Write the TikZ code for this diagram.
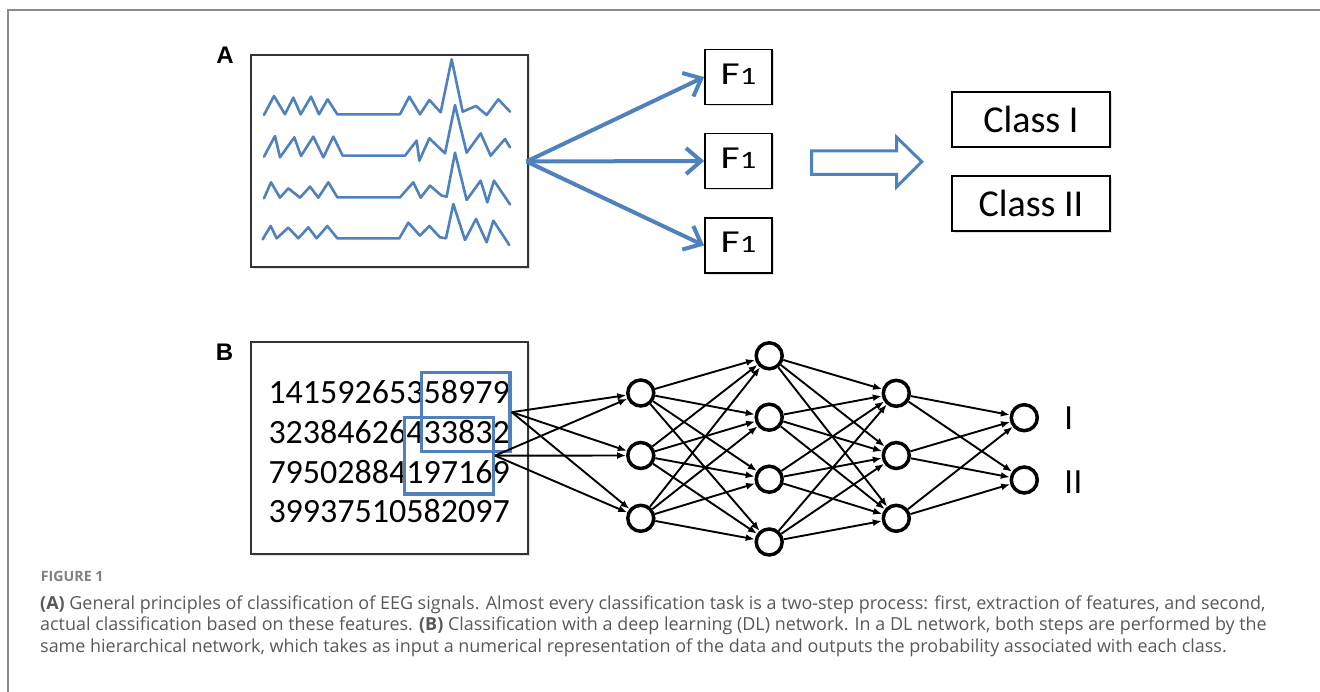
\documentclass[tikz,border=0pt]{standalone}
\usepackage{fontspec}
\setmainfont{Liberation Sans}
\newfontfamily\carl{Carlito}
\newfontfamily\osans{Open Sans}
\usetikzlibrary{arrows.meta,shadows}
\definecolor{offblue}{RGB}{79,129,189}
\definecolor{capgray}{RGB}{88,88,88}
\newcommand{\fone}{\scalebox{1.3}[1]{F{\fontsize{25}{25}\selectfont 1}}}
\tikzset{
  softshadow/.style={drop shadow={shadow xshift=1.8pt, shadow yshift=-1.8pt, fill=black, opacity=0.12}},
  frame/.style={draw=black!80, fill=white, line width=2pt, softshadow},
  sig/.style={draw=offblue, line width=2.6pt, line join=round, line cap=round},
  fbox/.style={draw=black, fill=white, softshadow, line width=1.8pt, minimum width=67pt, minimum height=55pt, inner sep=0pt, text depth=6pt, font=\carl\fontsize{32}{32}\selectfont},
  cbox/.style={draw=black, fill=white, softshadow, line width=1.8pt, minimum width=158pt, minimum height=55pt, inner sep=0pt, font=\carl\fontsize{38}{38}\selectfont},
  barrow/.style={draw=offblue, line width=4pt, -{Straight Barb[length=15pt,width=26pt,line width=4pt]}},
  digits/.style={anchor=base west, inner sep=0pt, font=\carl\fontsize{34}{34}\selectfont},
  winbox/.style={draw=offblue, line width=3.5pt, inner sep=0pt},
  neuron/.style={circle, draw=black, fill=white, line width=3.5pt, minimum size=26pt, inner sep=0pt},
  syn/.style={draw=black, line width=1.9pt, -{Latex[length=9pt,width=7pt]}},
  plabel/.style={font=\fontsize{24}{24}\selectfont\bfseries, inner sep=0pt},
  olabel/.style={font=\fontsize{33}{33}\selectfont, anchor=west, inner sep=0pt},
  capline/.style={anchor=base west, inner sep=0pt, text=capgray, font=\osans\fontsize{17.95}{17.95}\selectfont}
}
\begin{document}
\begin{tikzpicture}[x=1pt, y=-1pt]
\useasboundingbox (0,0) rectangle (1320,692);
% outer frame (top and left edges)
\draw[draw=gray!90, line width=2pt] (7.5,692) -- (7.5,10) -- (1320,10);

% ---------- Panel A ----------
\node[plabel] (labA) at (225,55) {A};
\node[frame, minimum width=277pt, minimum height=212pt, inner sep=0pt] (sigbox) at (389.5,161) {};
\begin{scope}[shift={(200,30)}, x=0.33333pt, y=-0.33333pt]
\draw[sig] (192,255)--(222,198)--(255,253)--(280,203)--(302,253)--(333,200)--(357,253)--(383,208)--(412,253)--(600,253)--(628,200)--(660,253)--(688,210)--(722,247)--(755,88)--(788,245)--(828,228)--(860,255)--(895,208)--(930,245);
\draw[sig] (192,380)--(225,318)--(240,382)--(283,322)--(303,378)--(340,320)--(370,382)--(400,320)--(428,377)--(615,377)--(650,332)--(658,392)--(688,325)--(735,370)--(765,225)--(800,368)--(842,310)--(872,377)--(915,327)--(930,352);
\draw[sig] (192,505)--(213,457)--(240,503)--(265,475)--(300,503)--(330,470)--(355,503)--(385,457)--(412,502)--(600,502)--(640,457)--(662,503)--(690,467)--(725,497)--(740,500)--(765,368)--(800,510)--(842,452)--(862,517)--(882,452)--(930,523);
\draw[sig] (188,628)--(212,588)--(230,625)--(265,593)--(295,625)--(325,592)--(350,625)--(382,588)--(412,625)--(598,625)--(625,578)--(660,617)--(688,588)--(720,622)--(738,625)--(760,522)--(795,630)--(828,567)--(860,637)--(880,572)--(928,645);
\end{scope}

\node[fbox] (f1) at (738.5,77) {\fone};
\node[fbox] (f2) at (738.5,161) {\fone};
\node[fbox] (f3) at (738.5,245.5) {\fone};
\coordinate (src) at (526.5,161.5);
\draw[barrow] (src) -- (f1.west);
\draw[barrow] (src) -- (f2.west);
\draw[barrow] (src) -- (f3.west);

% hollow block arrow
\draw[draw=offblue, line width=3pt, line join=miter] (811.7,151) -- (896.7,151) -- (896.7,137.3) -- (921.7,161.7) -- (896.7,186.7) -- (896.7,174.3) -- (811.7,174.3) -- cycle;

\node[cbox] (c1) at (1031,119.2) {Class I};
\node[cbox] (c2) at (1031,203.5) {Class II};

% ---------- Panel B ----------
\node[plabel] (labB) at (224.5,352) {B};
\node[frame, minimum width=277pt, minimum height=212pt, inner sep=0pt] (numbox) at (389.5,448.3) {};
\node[digits] (d1) at (268.3,404) {14159265358979};
\node[digits] (d2) at (268.3,443.5) {32384626433832};
\node[digits] (d3) at (268.3,483) {79502884197169};
\node[digits] (d4) at (268.3,522.5) {39937510582097};
\node[winbox, minimum width=88.3pt, minimum height=79pt] (w1) at (465.85,412.2) {};
\node[winbox, minimum width=89pt, minimum height=76.7pt] (w2) at (448.8,455.65) {};

% network
\foreach \n/\y in {1/393,2/455.5,3/518.3} \node[neuron] (a\n) at (640.8,\y) {};
\foreach \n/\y in {1/355.8,2/417.2,3/479.2,4/542} \node[neuron] (b\n) at (769.2,\y) {};
\foreach \n/\y in {1/393.3,2/455.5,3/518.3} \node[neuron] (c\n) at (896.3,\y) {};
\foreach \n/\y in {1/417.7,2/480} \node[neuron] (o\n) at (1024.3,\y) {};

\foreach \t in {1,2,3} {
  \draw[syn] (w1.east) -- (a\t);
  \draw[syn] (w2.east) -- (a\t);
}
\foreach \s in {1,2,3} \foreach \t in {1,2,3,4} \draw[syn] (a\s) -- (b\t);
\foreach \s in {1,2,3,4} \foreach \t in {1,2,3} \draw[syn] (b\s) -- (c\t);
\foreach \s in {1,2,3} \foreach \t in {1,2} \draw[syn] (c\s) -- (o\t);

\node[olabel] (lI) at (1064,417.7) {I};
\node[olabel] (lII) at (1064,482) {II};

% ---------- caption ----------
\node[capline, font=\osans\fontsize{14.2}{14.2}\selectfont\bfseries, text=gray] (figt) at (40.7,581) {FIGURE 1};
\node[capline] (cap1) at (40,609) {\textbf{(A)} General principles of classification of EEG signals. Almost every classification task is a two-step process: first, extraction of features, and second,};
\node[capline] (cap2) at (40,630.5) {actual classification based on these features. \textbf{(B)} Classification with a deep learning (DL) network. In a DL network, both steps are performed by the};
\node[capline] (cap3) at (40,652) {same hierarchical network, which takes as input a numerical representation of the data and outputs the probability associated with each class.};
\end{tikzpicture}
\end{document}
